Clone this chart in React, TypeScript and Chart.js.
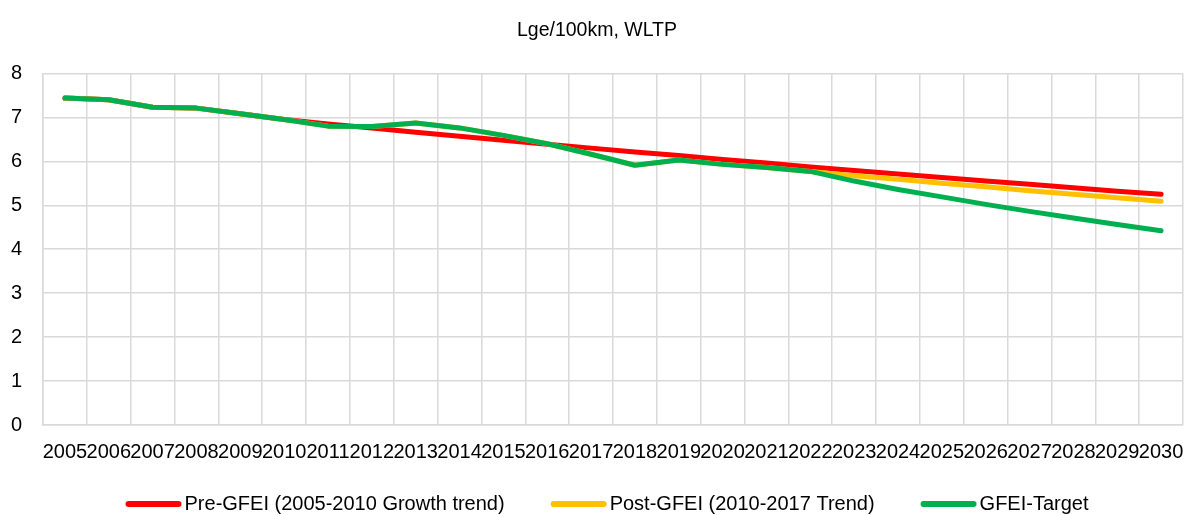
import React, { useEffect, useRef } from "react";
import { Chart, registerables } from "chart.js";

Chart.register(...registerables);

// Fuel economy, Lge/100km (WLTP), 2005–2030
const years = [
  "2005", "2006", "2007", "2008", "2009", "2010", "2011", "2012", "2013",
  "2014", "2015", "2016", "2017", "2018", "2019", "2020", "2021", "2022",
  "2023", "2024", "2025", "2026", "2027", "2028", "2029", "2030",
];

const preGfei = [
  7.44, 7.40, 7.23, 7.21, 7.08, 6.95, 6.85, 6.76, 6.66, 6.57, 6.48, 6.39, 6.30,
  6.21, 6.13, 6.04, 5.96, 5.87, 5.79, 5.71, 5.63, 5.55, 5.48, 5.40, 5.32, 5.25,
];

const postGfei = [
  7.44, 7.40, 7.23, 7.21, 7.08, 6.95, 6.80, 6.79, 6.87, 6.76, 6.59, 6.40, 6.16,
  5.91, 6.03, 5.93, 5.86, 5.77, 5.67, 5.59, 5.50, 5.42, 5.33, 5.25, 5.17, 5.09,
];

const gfeiTarget = [
  7.44, 7.40, 7.23, 7.21, 7.08, 6.95, 6.80, 6.79, 6.87, 6.76, 6.59, 6.40, 6.16,
  5.91, 6.03, 5.93, 5.86, 5.77, 5.55, 5.36, 5.19, 5.02, 4.86, 4.71, 4.56, 4.42,
];

const seriesNames = [
  "Pre-GFEI (2005-2010 Growth trend)",
  "Post-GFEI (2010-2017 Trend)",
  "GFEI-Target",
];
const seriesColors = ["#FF0000", "#FFC000", "#00B050"];
const yTicks = [0, 1, 2, 3, 4, 5, 6, 7, 8];

const FONT = "'Liberation Sans', Arial, sans-serif";

// Legend row under the axis: a short thick line swatch followed by the series name.
const lineLegend = {
  id: "lineLegend",
  afterDraw(chart: any) {
    const ctx = chart.ctx as CanvasRenderingContext2D;
    const swatch = 56;
    const textGap = 3;
    const itemGap = 46;
    ctx.save();
    ctx.font = `20px ${FONT}`;
    ctx.textBaseline = "middle";
    ctx.textAlign = "left";
    const widths = seriesNames.map((n) => ctx.measureText(n).width);
    const total =
      widths.reduce((s, w) => s + swatch + textGap + w, 0) + itemGap * (seriesNames.length - 1);
    let x = chart.width / 2 + 14 - total / 2;
    const y = chart.height - 11;
    seriesNames.forEach((name, i) => {
      ctx.strokeStyle = seriesColors[i];
      ctx.lineWidth = 6;
      ctx.lineCap = "round";
      ctx.beginPath();
      ctx.moveTo(x + 3, y);
      ctx.lineTo(x + swatch - 3, y);
      ctx.stroke();
      ctx.fillStyle = "#000";
      ctx.fillText(name, x + swatch + textGap, y);
      x += swatch + textGap + widths[i] + itemGap;
    });
    ctx.restore();
  },
};

export default function App() {
  const canvasRef = useRef<HTMLCanvasElement | null>(null);

  useEffect(() => {
    document.body.style.margin = "0";
    const canvas = canvasRef.current;
    if (!canvas) return;

    const values = [preGfei, postGfei, gfeiTarget];
    const chart = new Chart(canvas, {
      type: "line",
      data: {
        labels: years,
        datasets: values.map((data, i) => ({
          label: seriesNames[i],
          data,
          borderColor: seriesColors[i],
          backgroundColor: seriesColors[i],
          borderWidth: 5,
          borderCapStyle: "round",
          borderJoinStyle: "round",
          pointRadius: 0,
          pointHoverRadius: 0,
          tension: 0,
          fill: false,
          // later series are painted on top
          order: 3 - i,
        })),
      },
      plugins: [lineLegend],
      options: {
        responsive: false,
        animation: false,
        font: { family: FONT, size: 20 },
        color: "#000",
        layout: { padding: { left: 11, right: 3, top: 0, bottom: 51 } },
        plugins: {
          title: {
            display: true,
            text: "Lge/100km, WLTP",
            color: "#000",
            font: { family: FONT, size: 19.5, weight: "normal" },
            padding: { top: 19, bottom: 31 },
          },
          legend: { display: false },
          tooltip: { enabled: false },
        },
        scales: {
          x: {
            offset: true,
            grid: { color: "#D9D9D9", lineWidth: 1.5, offset: true, drawTicks: false },
            border: { color: "#D9D9D9", width: 1.5 },
            ticks: {
              color: "#000",
              font: { family: FONT, size: 20 },
              autoSkip: false,
              maxRotation: 0,
              minRotation: 0,
              padding: 15,
            },
            afterFit: (scale: any) => {
              scale.height = 39;
              scale.paddingLeft = 0;
              scale.paddingRight = 0;
            },
          },
          y: {
            min: 0,
            max: 8,
            grid: { color: "#D9D9D9", lineWidth: 1.5, drawTicks: false },
            border: { color: "#D9D9D9", width: 1.5 },
            afterBuildTicks: (scale: any) => {
              scale.ticks = yTicks.map((v) => ({ value: v }));
            },
            afterFit: (scale: any) => {
              scale.width = 32;
            },
            ticks: {
              color: "#000",
              font: { family: FONT, size: 20 },
              padding: 21,
            },
          },
        },
      },
    });

    return () => chart.destroy();
  }, []);

  return (
    <div style={{ width: 1186, height: 515, overflow: "hidden" }}>
      <canvas ref={canvasRef} width={1186} height={515} style={{ display: "block" }} />
    </div>
  );
}
